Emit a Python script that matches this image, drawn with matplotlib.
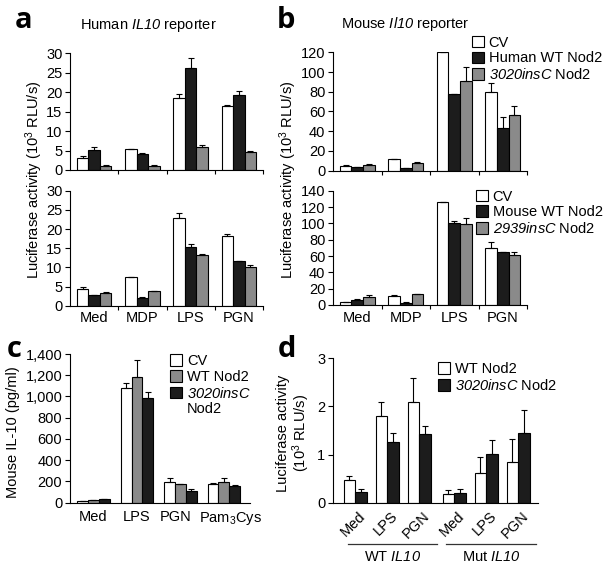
import numpy as np
import matplotlib.pyplot as plt
from matplotlib.patches import Patch
from matplotlib.ticker import FuncFormatter

plt.rcParams['font.family'] = 'Liberation Sans'
plt.rcParams['mathtext.fontset'] = 'custom'
plt.rcParams['mathtext.rm'] = 'Liberation Sans'
plt.rcParams['mathtext.it'] = 'Liberation Sans:italic'
plt.rcParams['mathtext.sf'] = 'Liberation Sans:italic'
plt.rcParams['mathtext.bf'] = 'Liberation Sans:bold'
plt.rcParams['font.size'] = 10.5
plt.rcParams['axes.linewidth'] = 0.8

stimuli_ab = ['Med', 'MDP', 'LPS', 'PGN']

# a top: human IL10 reporter, human Nod2
a_top_cv = [3.0, 5.5, 18.4, 16.4]
a_top_cv_err = [0.6, 0.0, 1.2, 0.3]
a_top_wt = [5.1, 4.1, 26.1, 19.2]
a_top_wt_err = [0.9, 0.3, 2.8, 1.1]
a_top_ins = [1.0, 1.1, 6.0, 4.7]
a_top_ins_err = [0.4, 0.3, 0.4, 0.2]

# a bottom: human IL10 reporter, mouse Nod2
a_bot_cv = [4.35, 7.4, 23.0, 18.3]
a_bot_cv_err = [0.45, 0.0, 1.3, 0.4]
a_bot_wt = [2.9, 2.1, 15.4, 11.7]
a_bot_wt_err = [0.0, 0.2, 0.7, 0.0]
a_bot_ins = [3.3, 3.9, 13.2, 10.2]
a_bot_ins_err = [0.4, 0.0, 0.3, 0.5]

# b top: mouse Il10 reporter, human Nod2
b_top_cv = [5.0, 11.8, 120.0, 80.0]
b_top_cv_err = [0.4, 0.0, 0.6, 8.5]
b_top_wt = [3.5, 3.0, 77.4, 42.9]
b_top_wt_err = [0.3, 0.0, 0.0, 11.8]
b_top_ins = [5.5, 8.1, 90.9, 56.4]
b_top_ins_err = [1.0, 1.0, 14.5, 9.5]

# b bottom: mouse Il10 reporter, mouse Nod2
b_bot_cv = [3.3, 11.0, 125.7, 69.8]
b_bot_cv_err = [0.0, 0.8, 0.8, 7.8]
b_bot_wt = [5.7, 2.9, 100.0, 64.9]
b_bot_wt_err = [1.2, 0.8, 3.3, 0.0]
b_bot_ins = [9.4, 13.1, 98.8, 60.8]
b_bot_ins_err = [2.8, 0.8, 8.1, 4.1]

# c: IL-10 protein
stimuli_c = ['Med', 'LPS', 'PGN', 'Pam$_3$Cys']
c_cv = [19, 1083, 198, 176]
c_cv_err = [0, 41, 32, 7]
c_wt = [25, 1186, 173, 198]
c_wt_err = [0, 157, 7, 37]
c_ins = [31, 983, 110, 160]
c_ins_err = [6, 62, 19, 6]

# d: WT / Mut IL10 reporter
stimuli_d = ['Med', 'LPS', 'PGN', 'Med', 'LPS', 'PGN']
d_wt = [0.47, 1.79, 2.10, 0.19, 0.62, 0.84]
d_wt_err = [0.08, 0.29, 0.49, 0.07, 0.33, 0.48]
d_ins = [0.23, 1.26, 1.43, 0.21, 1.02, 1.45]
d_ins_err = [0.05, 0.19, 0.16, 0.09, 0.29, 0.48]

W, H = 608, 568
WHITE, BLACK, GRAY = 'white', '#1c1c1c', '#8a8a8a'


def px_axes(fig, x0, x1, y0, y1):
    return fig.add_axes([x0 / W, 1 - y1 / H, (x1 - x0) / W, (y1 - y0) / H])


def ftext(fig, x, y, s, **kw):
    return fig.text(x / W, 1 - y / H, s, **kw)


def bars(ax, x, values, errors, colors, width, labels):
    n = len(values)
    handles = []
    for k in range(n):
        off = (k - (n - 1) / 2) * width
        err = np.asarray(errors[k], dtype=float)
        h = ax.bar(x + off, values[k], width, color=colors[k], edgecolor='black',
                   linewidth=0.8, yerr=[np.zeros_like(err), err], capsize=2.5,
                   error_kw=dict(elinewidth=0.8, capthick=0.8, ecolor='black'),
                   label=labels[k], zorder=2)
        handles.append(h)
    return handles


def style(ax):
    ax.spines[['top', 'right']].set_visible(False)
    ax.tick_params(axis='y', direction='out', length=3.5, width=0.8, pad=2)


def group_axis(ax, names, show_labels):
    x = np.arange(len(names))
    ax.set_xlim(-0.5, len(names) - 0.5)
    ax.set_xticks(x + 0.5)
    ax.set_xticklabels([])
    ax.tick_params(axis='x', which='major', direction='out', length=3, width=0.8)
    ax.set_xticks(x, minor=True)
    if show_labels:
        ax.set_xticklabels(names, minor=True)
    ax.tick_params(axis='x', which='minor', length=0, pad=4)
    return x


def legend(ax, handles, labels, x, y):
    ax.legend(handles, labels, loc='upper left', bbox_to_anchor=(x, y),
              frameon=False, borderpad=0, borderaxespad=0, handlelength=0.85,
              handleheight=0.85, handletextpad=0.3, labelspacing=0.12,
              fontsize=10.5)


fig = plt.figure(figsize=(W / 100, H / 100), dpi=100)

# ---- panel a
ax = px_axes(fig, 70, 263, 53.3, 170)
style(ax)
x = group_axis(ax, stimuli_ab, False)
bars(ax, x, [a_top_cv, a_top_wt, a_top_ins], [a_top_cv_err, a_top_wt_err, a_top_ins_err],
     [WHITE, BLACK, GRAY], 0.24, ['CV', 'Human WT Nod2', '3020insC Nod2'])
ax.set_ylim(0, 30)
ax.set_yticks(np.arange(0, 31, 5))

ax = px_axes(fig, 70, 263, 190.7, 305.7)
style(ax)
x = group_axis(ax, stimuli_ab, True)
bars(ax, x, [a_bot_cv, a_bot_wt, a_bot_ins], [a_bot_cv_err, a_bot_wt_err, a_bot_ins_err],
     [WHITE, BLACK, GRAY], 0.24, ['CV', 'Mouse WT Nod2', '2939insC Nod2'])
ax.set_ylim(0, 30)
ax.set_yticks(np.arange(0, 31, 5))

# ---- panel b
ax = px_axes(fig, 333, 527, 52.3, 170.7)
style(ax)
x = group_axis(ax, stimuli_ab, False)
h = bars(ax, x, [b_top_cv, b_top_wt, b_top_ins], [b_top_cv_err, b_top_wt_err, b_top_ins_err],
         [WHITE, BLACK, GRAY], 0.24, ['CV', 'Human WT Nod2', '3020insC Nod2'])
ax.set_ylim(0, 120)
ax.set_yticks(np.arange(0, 121, 20))
legend(ax, h, ['CV', 'Human WT Nod2', r'$\mathsf{3020insC}$ Nod2'], 0.716, 1.14)

ax = px_axes(fig, 333, 527, 190.7, 305)
style(ax)
x = group_axis(ax, stimuli_ab, True)
h = bars(ax, x, [b_bot_cv, b_bot_wt, b_bot_ins], [b_bot_cv_err, b_bot_wt_err, b_bot_ins_err],
         [WHITE, BLACK, GRAY], 0.24, ['CV', 'Mouse WT Nod2', '2939insC Nod2'])
ax.set_ylim(0, 140)
ax.set_yticks(np.arange(0, 141, 20))
legend(ax, h, ['CV', 'Mouse WT Nod2', r'$\mathsf{2939insC}$ Nod2'], 0.737, 1.01)

# ---- panel c
ax = px_axes(fig, 70, 250, 354, 502.7)
style(ax)
x = np.arange(len(stimuli_c))
h = bars(ax, x, [c_cv, c_wt, c_ins], [c_cv_err, c_wt_err, c_ins_err],
         [WHITE, GRAY, BLACK], 0.25, ['CV', 'WT Nod2', '3020insC Nod2'])
ax.set_xlim(-0.54, 3.6)
# labels sit a little off the bar groups in the original
ax.set_xticks([-0.01, 0.98, 1.88, 3.15])
ax.set_xticklabels(stimuli_c)
ax.tick_params(axis='x', length=0, pad=5)
ax.set_ylim(0, 1400)
ax.set_yticks(np.arange(0, 1401, 200))
ax.yaxis.set_major_formatter(FuncFormatter(lambda v, p: f'{int(v):,}'))
blank = Patch(facecolor='none', edgecolor='none')
legend(ax, h + [blank], ['CV', 'WT Nod2', r'$\mathsf{3020insC}$', 'Nod2'], 0.556, 1.0)

# ---- panel d
ax = px_axes(fig, 333, 538, 358, 503)
style(ax)
xd = np.array([0, 1, 2, 3.1, 4.1, 5.1])
h = bars(ax, xd, [d_wt, d_ins], [d_wt_err, d_ins_err], [WHITE, BLACK], 0.36,
         ['WT Nod2', '3020insC Nod2'])
ax.set_xlim(-0.69, 5.72)
ax.set_xticks(xd + 0.1)
ax.set_xticklabels(stimuli_d, rotation=45, ha='right', va='top', rotation_mode='anchor')
ax.tick_params(axis='x', length=0, pad=4)
ax.set_ylim(0, 3)
ax.set_yticks([0, 1, 2, 3])
legend(ax, h, ['WT Nod2', r'$\mathsf{3020insC}$ Nod2'], 0.512, 0.972)
tr = ax.get_xaxis_transform()
for x0, x1, name in [(-0.22, 2.55, r'WT $\mathsf{IL10}$'), (2.85, 5.65, r'Mut $\mathsf{IL10}$')]:
    ax.plot([x0, x1], [-0.283, -0.283], color='#333333', lw=0.9, transform=tr, clip_on=False)
    ax.text((x0 + x1) / 2, -0.375, name, transform=tr, ha='center', va='center')

# ---- labels and titles
ftext(fig, 148, 25, r'Human $\mathsf{IL10}$ reporter', ha='center', va='center')
ftext(fig, 405, 24, r'Mouse $\mathsf{Il10}$ reporter', ha='center', va='center')
ylab = r'Luciferase activity (10$^3$ RLU/s)'
ftext(fig, 34, 180, ylab, rotation=90, ha='center', va='center')
ftext(fig, 288, 180, ylab, rotation=90, ha='center', va='center')
ftext(fig, 13, 432, 'Mouse IL-10 (pg/ml)', rotation=90, ha='center', va='center')
ftext(fig, 294, 433, 'Luciferase activity\n(10$^3$ RLU/s)', rotation=90,
      ha='center', va='center', multialignment='center', linespacing=1.0)

for s, xp, yp in [('a', 15, 28), ('b', 277, 28), ('c', 7, 357), ('d', 278, 357)]:
    ftext(fig, xp, yp, s, fontsize=21, fontweight='bold', family='Open Sans',
          ha='left', va='baseline')

fig.savefig('out.png', dpi=100)
